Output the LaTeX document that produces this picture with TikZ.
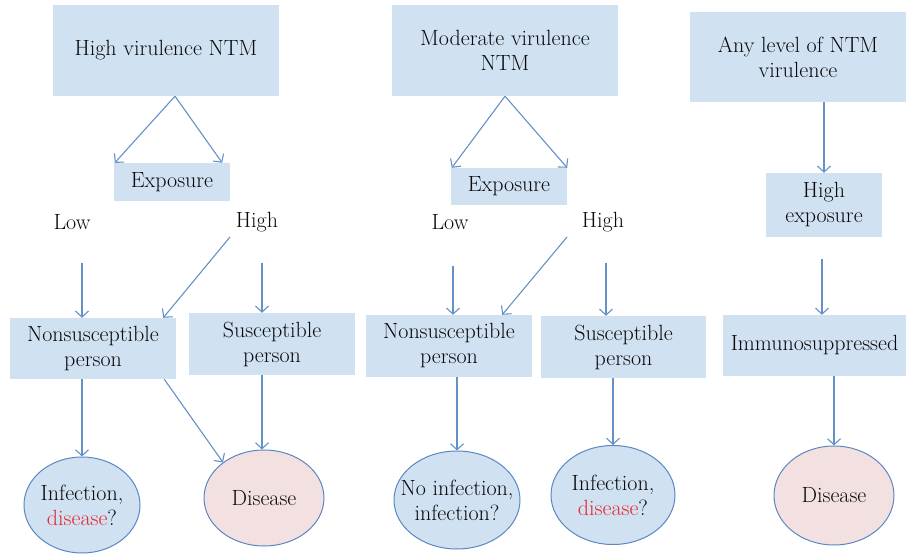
\documentclass[tikz,border=0pt]{standalone}
\usetikzlibrary{arrows.meta,shapes.geometric,calc}
\definecolor{boxblue}{RGB}{208,225,242}
\definecolor{linblue}{RGB}{100,145,200}
\definecolor{elblue}{RGB}{90,135,195}
\definecolor{pinkfill}{RGB}{243,224,224}
\definecolor{redtxt}{RGB}{232,38,43}
\definecolor{txt}{RGB}{10,10,10}
\begin{document}
\begin{tikzpicture}[x=1pt,y=-1pt,
  every node/.style={font=\fontsize{22}{25}\selectfont, text=txt},
  box/.style={fill=boxblue, inner sep=0pt, align=center},
  oval/.style={ellipse, draw=elblue, line width=1pt, inner sep=-14pt, align=center},
  blueoval/.style={oval, fill=boxblue},
  pinkoval/.style={oval, fill=pinkfill},
  lbl/.style={inner sep=0pt},
  arr/.style={draw=linblue, line width=1.1pt, -{Straight Barb[length=6pt,width=13pt]}}]
\useasboundingbox (0,0) rectangle (906,556);

% column 1
\node[box, minimum width=226, minimum height=91] (a1) at (166,50.5) {High virulence NTM};
\node[box, minimum width=116, minimum height=38] (e1) at (172,182) {Exposure};
\node[lbl] (low1) at (72,222) {Low};
\node[lbl] (high1) at (257,222) {High};
\node[box, minimum width=166, minimum height=61] (n1) at (93,348.5) {Nonsusceptible\\person};
\node[box, minimum width=166, minimum height=62] (s1) at (272,344) {Susceptible\\person};
\node[blueoval, minimum width=116, minimum height=96] (i1) at (82,505) {Infection,\\{\color{redtxt}disease}?};
\node[pinkoval, minimum width=120, minimum height=96] (d1) at (264,498) {Disease};

% column 2
\node[box, minimum width=226, minimum height=91] (a2) at (505,50.5) {Moderate virulence\\NTM};
\node[box, minimum width=116, minimum height=37] (e2) at (509,186.5) {Exposure};
\node[lbl] (low2) at (450,222) {Low};
\node[lbl] (high2) at (603,222) {High};
\node[box, minimum width=166, minimum height=62] (n2) at (449,346) {Nonsusceptible\\person};
\node[box, minimum width=165, minimum height=62] (s2) at (623.5,347) {Susceptible\\person};
\node[blueoval, minimum width=126, minimum height=98] (i2) at (457,500) {No infection,\\infection?};
\node[blueoval, minimum width=124, minimum height=99] (i3) at (613,495) {Infection,\\{\color{redtxt}disease}?};

% column 3
\node[box, minimum width=216, minimum height=90] (a3) at (798,57) {Any level of NTM\\virulence};
\node[box, minimum width=116, minimum height=64] (h3) at (824,205) {High\\exposure};
\node[box, minimum width=183, minimum height=61] (m3) at (814.5,345.5) {Immunosuppressed};
\node[pinkoval, minimum width=120, minimum height=99] (d3) at (834,495.5) {Disease};

% free-end coordinates
\coordinate (l1) at (82,263);
\coordinate (hd1) at (230,237);
\coordinate (hv1) at (262,263);
\coordinate (l2) at (453,266);
\coordinate (hd2) at (567,237);
\coordinate (hv2) at (606,263);
\coordinate (c3) at (822,259);

% connectors column 1
\draw[arr] ([xshift=9]a1.south) -- ([xshift=1]e1.north west);
\draw[arr] ([xshift=9]a1.south) -- ([xshift=-8]e1.north east);
\draw[arr] (l1) -- (l1 |- n1.north);
\draw[arr] (hd1) -- ([xshift=-13]n1.north east);
\draw[arr] (hv1) -- (hv1 |- s1.north);
\draw[arr] (i1.north |- n1.south) -- (i1.north);
\draw[arr] ([xshift=-12]n1.south east) -- (d1.139);
\draw[arr] ([xshift=-10]s1.south) -- ([xshift=-10]s1.south |- d1.north);

% connectors column 2
\draw[arr] (a2.south) -- ([xshift=1]e2.north west);
\draw[arr] (a2.south) -- (e2.north east);
\draw[arr] (l2) -- (l2 |- n2.north);
\draw[arr] (hd2) -- ([xshift=-30]n2.north east);
\draw[arr] (hv2) -- (hv2 |- s2.north);
\draw[arr] (i2.north |- n2.south) -- (i2.north);
\draw[arr] (i3.north |- s2.south) -- (i3.north);

% connectors column 3
\draw[arr] (h3.north |- a3.south) -- (h3.north);
\draw[arr] (c3) -- (c3 |- m3.north);
\draw[arr] (d3.north |- m3.south) -- (d3.north);
\end{tikzpicture}
\end{document}
